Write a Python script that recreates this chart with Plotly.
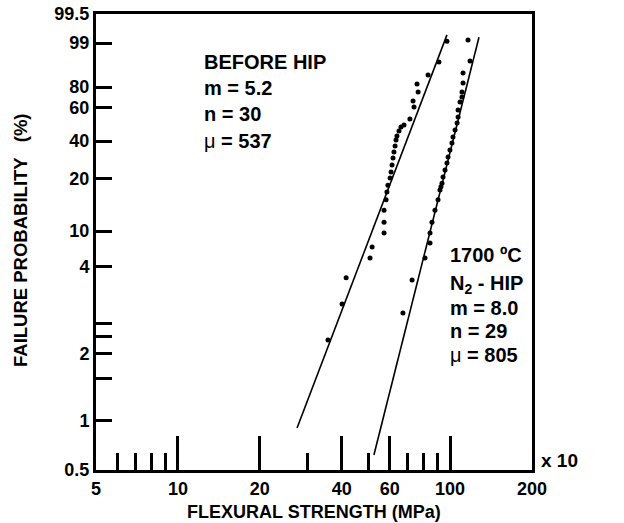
import numpy as np
import plotly.graph_objects as go

# ---------------- data (strength in MPa x 10, failure probability in %) ----------------
before_strength = [35.6, 40.1, 41.5, 50.8, 51.7, 57.2, 57.2, 57.2, 58.2, 58.6,
                   59.1, 60.2, 60.7, 61.2, 61.7, 62.2, 62.8, 63.3, 63.8, 64.9,
                   66.0, 67.7, 71.2, 73.7, 73.1, 76.3, 75.6, 83.0, 91.0, 97.4]
before_prob = [2.32, 3.15, 3.75, 5.5, 7.33, 9.67, 11.7, 14.0, 16.0, 17.5,
               18.8, 20.5, 23.7, 27.4, 31.1, 34.2, 37.4, 40.6, 43.0, 46.1,
               48.5, 49.7, 53.3, 61.0, 66.7, 75.2, 81.3, 85.2, 90.8, 99.03]

after_strength = [67.1, 72.5, 80.9, 84.4, 84.4, 85.8, 88.0, 90.3, 91.8, 92.6,
                  93.4, 94.2, 95.8, 97.4, 98.3, 99.9, 101.6, 102.5, 104.3, 106.1,
                  107.0, 107.0, 108.8, 110.6, 110.6, 111.6, 111.6, 118.4, 116.4]
after_prob = [2.94, 3.70, 5.5, 8.0, 9.67, 11.7, 14.0, 16.0, 17.9, 18.5,
              19.2, 21.1, 24.7, 28.4, 31.6, 35.3, 38.9, 42.4, 46.7, 50.9,
              54.5, 58.8, 65.7, 70.5, 75.2, 81.7, 86.0, 91.2, 99.05]

before_fit_strength = [27.4, 97.4]
before_fit_prob = [0.929, 99.14]
after_fit_strength = [52.5, 127.7]
after_fit_prob = [0.653, 99.10]

# axis labels
x_tick_vals = [5, 10, 20, 40, 60, 100, 200]
x_minor_vals = [6, 7, 8, 9, 30, 50, 70, 80, 90]
y_tick_labels = [0.5, 1, 2, 4, 10, 20, 40, 60, 80, 99, 99.5]
y_unlabeled_ticks = [1.63, 2.41, 2.71]

# probability-paper scale of the original chart (label -> relative height)
scale_prob = [0.5, 1, 2, 4, 10, 20, 40, 60, 80, 99, 99.5]
scale_height = [0.0, 0.1075, 0.2544, 0.4452, 0.5241, 0.6382, 0.7215, 0.7939, 0.8399, 0.9364, 1.0]


def pscale(p):
    return np.interp(np.asarray(p, dtype=float), scale_prob, scale_height)


FONT = "Liberation Sans, Arial, sans-serif"

fig = go.Figure()
fig.add_trace(go.Scatter(x=before_fit_strength, y=pscale(before_fit_prob), mode="lines",
                         line=dict(color="black", width=1.6), hoverinfo="skip"))
fig.add_trace(go.Scatter(x=after_fit_strength, y=pscale(after_fit_prob), mode="lines",
                         line=dict(color="black", width=1.6), hoverinfo="skip"))
fig.add_trace(go.Scatter(x=before_strength, y=pscale(before_prob), mode="markers",
                         marker=dict(color="black", size=5)))
fig.add_trace(go.Scatter(x=after_strength, y=pscale(after_prob), mode="markers",
                         marker=dict(color="black", size=5)))

L, R, T, B = 96, 92, 14, 53
W, H = 624, 523
PW, PH = W - L - R, H - T - B


def px(xp):
    return (xp - L) / PW


def py(yp):
    return (T + PH - yp) / PH


ann = []
def add_text(text, x, y, size=20, xanchor="left", angle=0):
    ann.append(dict(text=text, x=px(x), y=py(y), xref="paper", yref="paper",
                    xanchor=xanchor, yanchor="middle", showarrow=False, textangle=angle,
                    font=dict(family=FONT, size=size, color="black")))

add_text("<b>BEFORE HIP</b>", 202, 62)
add_text("<b>m = 5.2</b>", 202, 88)
add_text("<b>n = 30</b>", 202, 114)
add_text("μ<b> = 537</b>", 202, 141)

add_text("<b>1700 ºC</b>", 448, 255)
add_text("<b>N<sub>2</sub> - HIP</b>", 448, 284)
add_text("<b>m = 8.0</b>", 448, 308)
add_text("<b>n = 29</b>", 448, 331)
add_text("μ<b> = 805</b>", 448, 355)

add_text("<b>x 10</b>", 539, 460, size=19)
add_text("<b>FLEXURAL STRENGTH (MPa)</b>", 314, 512, size=18, xanchor="center")
add_text("<b>FAILURE PROBABILITY \u00a0\u00a0(%)</b>", 20, 240, size=18.5, xanchor="center", angle=-90)

fig.update_layout(
    width=W, height=H,
    margin=dict(l=L, r=R, t=T, b=B, autoexpand=False),
    paper_bgcolor="white", plot_bgcolor="white",
    showlegend=False,
    annotations=ann,
    xaxis=dict(
        type="log", range=[np.log10(5), np.log10(200)], automargin=False,
        tickmode="array", tickvals=x_tick_vals, ticktext=[str(v) for v in x_tick_vals],
        ticks="inside", ticklen=34, tickwidth=3, tickcolor="black",
        minor=dict(tickmode="array", tickvals=x_minor_vals, ticks="inside",
                   ticklen=17, tickwidth=3, tickcolor="black", showgrid=False),
        showline=True, linecolor="black", linewidth=3, mirror=True,
        showgrid=False, zeroline=False,
        tickfont=dict(family=FONT, size=18, color="black", weight="bold"),
    ),
    yaxis=dict(
        range=[0, 1], automargin=False,
        tickmode="array", tickvals=pscale(y_tick_labels),
        ticktext=[("%g" % v) for v in y_tick_labels],
        ticks="inside", ticklen=16, tickwidth=3, tickcolor="black",
        minor=dict(tickmode="array", tickvals=pscale(y_unlabeled_ticks), ticks="inside",
                   ticklen=16, tickwidth=3, tickcolor="black", showgrid=False),
        showline=True, linecolor="black", linewidth=3, mirror=True,
        showgrid=False, zeroline=False,
        tickfont=dict(family=FONT, size=18, color="black", weight="bold"),
    ),
)

fig.write_html("out.html", config={"displayModeBar": False},
               post_script="document.body.style.margin='0px';document.body.style.overflow='hidden';")
